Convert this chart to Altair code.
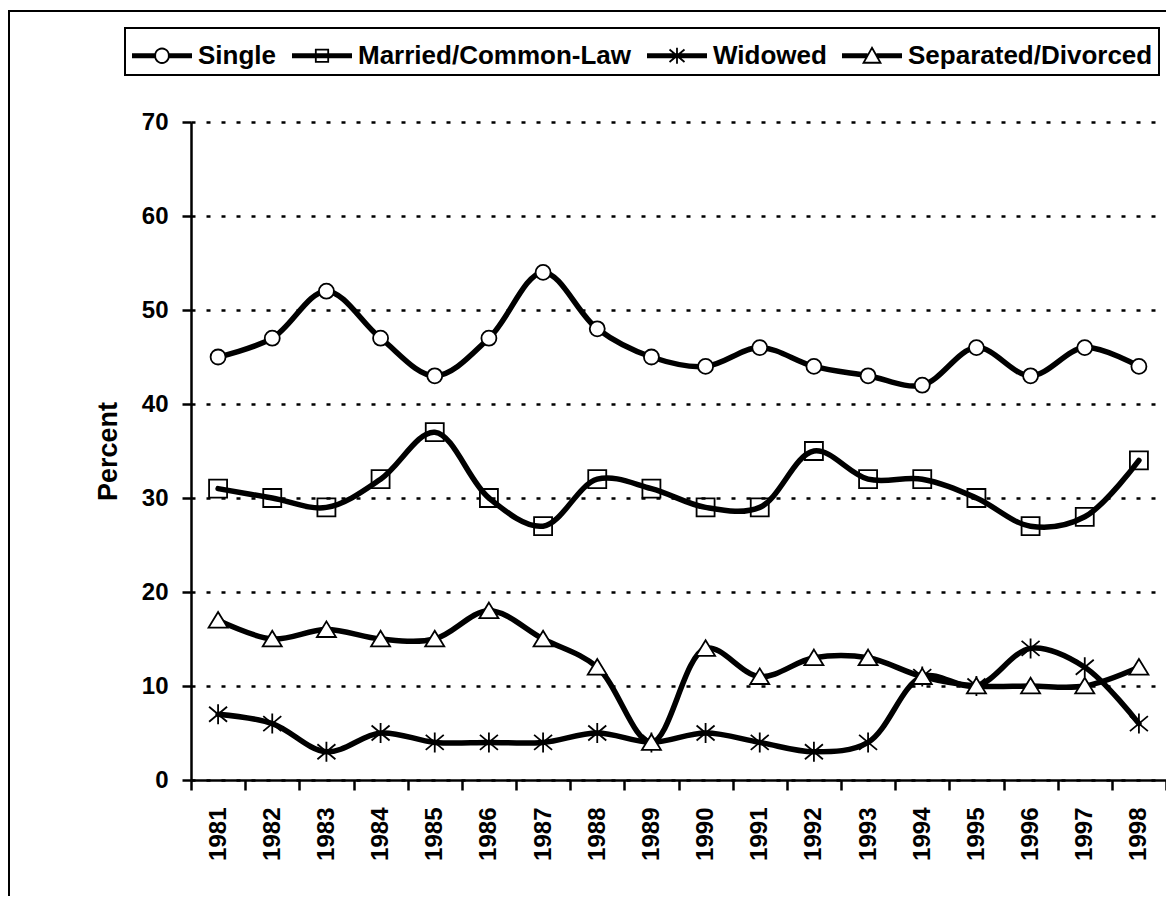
import altair as alt
import pandas as pd

# ---- data ----
years = list(range(1981, 1999))
series_names = ["Single", "Married/Common-Law", "Widowed", "Separated/Divorced"]
single = [45, 47, 52, 47, 43, 47, 54, 48, 45, 44, 46, 44, 43, 42, 46, 43, 46, 44]
married = [31, 30, 29, 32, 37, 30, 27, 32, 31, 29, 29, 35, 32, 32, 30, 27, 28, 34]
widowed = [7, 6, 3, 5, 4, 4, 4, 5, 4, 5, 4, 3, 4, 11, 10, 14, 12, 6]
separated = [17, 15, 16, 15, 15, 18, 15, 12, 4, 14, 11, 13, 13, 11, 10, 10, 10, 12]
y_ticks = [0, 10, 20, 30, 40, 50, 60, 70]

rows = []
for name, vals in zip(series_names, [single, married, widowed, separated]):
    for yr, v in zip(years, vals):
        rows.append({"year": yr, "value": v, "series": name})
df = pd.DataFrame(rows)

# tick marks sit between the year categories
x_edges = [yr - 0.5 for yr in years] + [years[-1] + 0.5]

FONT = "Liberation Sans"
W, H = 975, 658
band = W / len(years)

# ---- marker shapes in the plot (unit = 10 px at size 400) ----
CIRCLE = "M-0.75,0A0.75,0.75,0,1,1,0.75,0A0.75,0.75,0,1,1,-0.75,0Z"
SQUARE = "M-0.9,-0.9L0.9,-0.9L0.9,0.9L-0.9,0.9Z"
ASTER = "M-0.9,-0.75L0.9,0.75M-0.9,0.75L0.9,-0.75M0,-1L0,1"
TRI = "M0,-0.82L0.95,0.74L-0.95,0.74Z"

# ---- legend symbols: thick line with the marker in its middle ----
SYM = 41.0            # nominal legend symbol box (px)
U = SYM / 2           # path unit in px
LINE_LEN = 60.0       # drawn line length (px)
MID = 30.0            # marker centre from line start (px)


def ux(px):
    return f"{-1 + px / U:.3f}"


def uy(py):
    return f"{py / U:.3f}"


def hl(p0, p1):
    return "".join(f"M{ux(p0)},{uy(d)}L{ux(p1)},{uy(d)}" for d in (-1.5, 0, 1.5))


r = 6.8
L_SINGLE = hl(0, MID - r) + hl(MID + r, LINE_LEN) + (
    f"M{ux(MID - r)},0A{r / U:.3f},{r / U:.3f},0,1,1,{ux(MID + r)},0"
    f"A{r / U:.3f},{r / U:.3f},0,1,1,{ux(MID - r)},0Z")
s = 6.2
L_MARRIED = hl(0, LINE_LEN) + (
    f"M{ux(MID - s)},{uy(-s)}L{ux(MID + s)},{uy(-s)}L{ux(MID + s)},{uy(s)}"
    f"L{ux(MID - s)},{uy(s)}Z")
a = 7.5
L_WIDOWED = hl(0, LINE_LEN) + (
    f"M{ux(MID - a)},{uy(-6.3)}L{ux(MID + a)},{uy(6.3)}"
    f"M{ux(MID - a)},{uy(6.3)}L{ux(MID + a)},{uy(-6.3)}"
    f"M{ux(MID)},{uy(-8)}L{ux(MID)},{uy(8)}")
tw, tt, tb = 8.5, -8.0, 7.0
L_SEP = hl(0, MID - tw * (-tt) / (tb - tt)) + hl(MID + tw * (-tt) / (tb - tt), LINE_LEN) + (
    f"M{ux(MID)},{uy(tt)}L{ux(MID + tw)},{uy(tb)}L{ux(MID - tw)},{uy(tb)}Z")

xscale = alt.Scale(domain=[1980.5, 1998.5], nice=False, zero=False)
yscale = alt.Scale(domain=[0, 70], nice=False, zero=True)

xaxis = alt.Axis(
    values=x_edges,
    labelExpr="datum.value > 1998 ? '' : format(datum.value + 0.5, 'd')",
    labelAngle=270, labelOffset=band / 2, labelPadding=17, tickSize=10,
    grid=False, title=None, labelFlush=False, labelOverlap=False,
)
yaxis = alt.Axis(
    values=y_ticks, title="Percent", grid=True, gridDash=[4, 11],
    gridColor="black", gridWidth=2.5, tickSize=9, labelPadding=14,
    titlePadding=19, titleFontSize=27,
)

X = alt.X("year:Q", scale=xscale, axis=xaxis)
Y = alt.Y("value:Q", scale=yscale, axis=yaxis)

frame = alt.Chart(alt.Data(values=[{"a": 1}])).mark_rect(
    fill="transparent", stroke="black", strokeWidth=2
).encode(
    x=alt.value(-182), x2=alt.value(1300), y=alt.value(-111), y2=alt.value(1100)
)

lines = alt.Chart(df).mark_line(
    interpolate="catmull-rom", color="black", strokeWidth=5.5,
    strokeCap="round", strokeJoin="round"
).encode(x=X, y=Y, detail="series:N")

points = alt.Chart(df).mark_point(
    opacity=1, stroke="black", strokeWidth=1.8, size=400
).encode(
    x=X, y=Y,
    shape=alt.Shape("series:N", scale=alt.Scale(domain=series_names,
                    range=[CIRCLE, SQUARE, ASTER, TRI]), legend=None),
    fill=alt.Fill("series:N", scale=alt.Scale(domain=series_names,
                  range=["white", "transparent", "transparent", "white"]), legend=None),
)

# zero-size copy of the points that only carries the legend
legend_layer = alt.Chart(df).mark_point(
    stroke="black", strokeWidth=1.8, fill="white", size=0, opacity=1
).encode(
    x=X, y=Y,
    shape=alt.Shape(
        "series:N",
        scale=alt.Scale(domain=series_names, range=[L_SINGLE, L_MARRIED, L_WIDOWED, L_SEP]),
        legend=alt.Legend(
            orient="none", legendX=-66, legendY=-94, direction="horizontal",
            columns=4, title=None,
            labelFont=FONT, labelFontSize=26, labelFontWeight="bold",
            labelColor="black", labelLimit=500,
            symbolSize=SYM * SYM, symbolStrokeWidth=1.8,
            labelOffset=LINE_LEN + 5 - SYM, columnPadding=11, padding=6,
            strokeColor="black",
        ),
    ),
)

chart = alt.layer(frame, lines, points, legend_layer).resolve_scale(
    shape="independent", fill="independent"
).properties(
    width=W, height=H,
    autosize=alt.AutoSizeParams(type="none"),
    padding={"left": 183, "top": 114, "right": 0, "bottom": 116},
    background="white",
).configure_view(stroke=None).configure_axis(
    labelFont=FONT, labelFontSize=24, labelFontWeight="bold", labelColor="black",
    titleFont=FONT, titleFontWeight="bold", titleColor="black",
    domainColor="black", domainWidth=2.5, tickColor="black", tickWidth=2.5,
).configure_legend(strokeWidth=2)

chart.save("out.html", embed_options={"renderer": "svg", "actions": False})
